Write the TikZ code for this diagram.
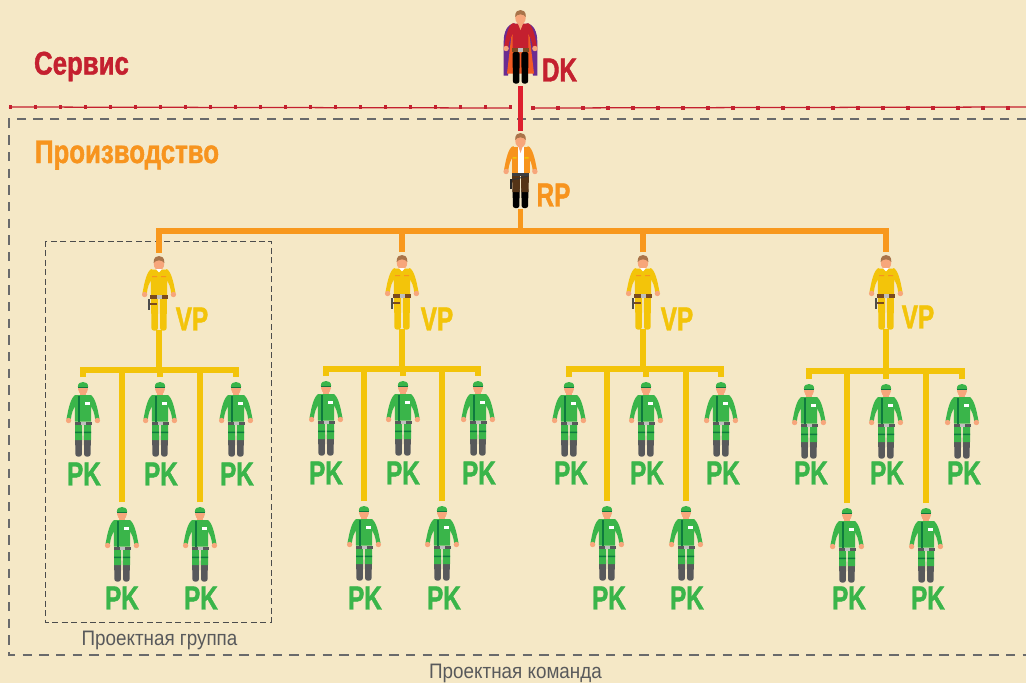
\documentclass[tikz,border=0pt]{standalone}
\usepackage{fontspec}
\setmainfont{Liberation Sans}
\newfontfamily\condb[UprightFont=* Bold,FakeStretch=0.73,FakeBold=1.3]{Liberation Sans}
\newfontfamily\condh[UprightFont=* Bold,FakeStretch=0.79,FakeBold=1.3]{Liberation Sans}
\newfontfamily\condr[FakeStretch=0.9]{Liberation Sans}
\definecolor{bgc}{HTML}{F5E8C6}
\definecolor{redc}{HTML}{C4202F}
\definecolor{redl}{HTML}{DD1F2E}
\definecolor{orc}{HTML}{F7941E}
\definecolor{orl}{HTML}{F8981D}
\definecolor{yec}{HTML}{F3C40A}
\definecolor{grc}{HTML}{3AB54A}
\definecolor{grd}{HTML}{0F7A3E}
\definecolor{skin}{HTML}{F7A67B}
\definecolor{hair}{HTML}{A9744A}
\definecolor{belt}{HTML}{7A4A20}
\definecolor{grayc}{HTML}{58595B}
\definecolor{purp}{HTML}{6A2C91}
\definecolor{capeor}{HTML}{F15A24}
\newcommand\armspair[1]{%
  \fill[#1] (-7,13) .. controls (-12,14) and (-14.5,26) .. (-16.5,37) -- (-12.3,38) .. controls (-11.5,31) and (-10,27) .. (-7,23) -- cycle;
  \fill[#1] (7,13) .. controls (12,14) and (14.5,26) .. (16.5,37) -- (12.3,38) .. controls (11.5,31) and (10,27) .. (7,23) -- cycle;
  \fill[skin] (-14.4,38.5) circle (2.7) (14.4,38.5) circle (2.7);}
\newcommand\legshape[4]{% colour, top, bottom, side
  \fill[#1,rounded corners=1.6pt] (#4*8,#2) -- (#4*0.8,#2) -- (#4*1.2,#3) -- (#4*7.5,#3) -- cycle;}
\newcommand\headhair{%
  \fill[skin] (-2.5,10) rectangle (2.5,15);
  \fill[skin] (0,8) ellipse (5.2 and 6.4);
  \fill[hair] (-5.4,7) .. controls (-5.6,1) and (-2,0) .. (0,0) .. controls (2,0) and (5.6,1) .. (5.4,7) .. controls (3,3.5) and (-3,3.5) .. (-5.4,7) -- cycle;}
\tikzset{
  x=0.75pt,y=-0.75pt,
  hitbox/.style={rectangle,inner sep=0pt,outer sep=0pt,minimum width=15pt},
  bigred/.style={line width=3.9pt,redl,line cap=butt},
  orbus/.style={line width=4.1pt,orl,line join=miter},
  yebus/.style={line width=4.1pt,yec,line join=miter},
  lab/.style={font=\condb\fontsize{25}{25}\selectfont,inner sep=0pt},
  headlab/.style={font=\condh\fontsize{24.5}{25}\selectfont,inner sep=0pt,anchor=base},
  pklab/.style={lab,text=grc},
  vplab/.style={lab,text=yec},
  capt/.style={font=\condr\fontsize{15.7}{16}\selectfont,text=grayc,inner sep=0pt,anchor=base},
  bigdash/.style={draw=grayc!90,line width=0.95pt,dash pattern=on 7pt off 5.5pt},
  smalldash/.style={draw=black!70,line width=0.7pt,dash pattern=on 4.5pt off 2.6pt},
  redsq/.style={redc,line width=0.95pt},
  pkfig/.pic={
    \fill[skin] (-3,6) rectangle (3,14);
    \fill[skin] (0,7) ellipse (5 and 5.5);
    \fill[grc] (-5.2,5.2) .. controls (-5.2,1) and (-2.5,0) .. (0,0) .. controls (2.5,0) and (5.2,1) .. (5.2,5.2) -- cycle;
    \fill[grd] (-5.4,4.8) rectangle (5.4,6.3);
    \armspair{grc}
    \fill[grc] (-8.5,13) -- (8.5,13) -- (8,39.5) -- (-8,39.5) -- cycle;
    \fill[grd] (-4.8,14) rectangle (-2.8,39.5);
    \fill[white] (2,19.5) rectangle (7,22.5);
    \legshape{grayc}{52}{74.5}{-1}
    \legshape{grayc}{52}{74.5}{1}
    \fill[grc] (-8,41) -- (-0.8,41) -- (-1,58) -- (-8,58) -- cycle;
    \fill[grc] (8,41) -- (0.8,41) -- (1,58) -- (8,58) -- cycle;
    \fill[grd] (-8,49.5) rectangle (-0.9,51) (8,49.5) rectangle (0.9,51);
    \fill[grayc] (-8.5,39.5) rectangle (8.5,43);
    \fill[black!25] (-2.5,39.5) rectangle (2.5,43);
  },
  vpfig/.pic={
    \headhair
    \armspair{yec}
    \fill[white] (-3,13) -- (3,13) -- (0,17) -- cycle;
    \fill[yec] (-8.5,13.5) -- (-3,13.5) -- (0,16.5) -- (3,13.5) -- (8.5,13.5) -- (8,39.5) -- (-8,39.5) -- cycle;
    \fill[orc] (-7,20) rectangle (-2,21.2) (2,20) rectangle (7,21.2);
    \legshape{yec}{41}{74.5}{-1}
    \legshape{yec}{41}{74.5}{1}
    \fill[belt] (-9,39) rectangle (9,42.5);
    \fill[black!25] (-2.5,39) rectangle (2.5,42.5);
    \fill[belt] (-10.5,47) rectangle (-2,49);
    \fill[black!70] (-10.8,42.5) rectangle (-9,54);
  },
  rpfig/.pic={
    \headhair
    \armspair{orc}
    \legshape{black}{55}{75}{-1}
    \legshape{black}{55}{75}{1}
    \fill[belt!70!black] (-8.5,40) -- (-0.5,40) -- (-0.8,59) -- (-8,59) -- cycle;
    \fill[belt!70!black] (8.5,40) -- (0.5,40) -- (0.8,59) -- (8,59) -- cycle;
    \fill[orc] (-9,14) -- (9,14) -- (9,39.5) -- (-9,39.5) -- cycle;
    \fill[white] (-3,14) -- (3,14) -- (3,39.5) -- (-3,39.5) -- cycle;
    \fill[skin] (-2,14) -- (2,14) -- (0,20) -- cycle;
    \fill[yec] (-8,24) rectangle (-4,25.5) (4,24) rectangle (8,25.5);
    \fill[grayc!70!black] (-8.5,39.5) rectangle (8.5,43);
    \draw[black!80,line width=0.7pt] (-9,47) -- (8,43);
    \fill[black!85] (-10.8,46) rectangle (-8.5,56);
  },
  dkfig/.pic={
    \fill[purp] (-6,13) .. controls (-13,14) and (-17,22) .. (-16.8,32) -- (-16.8,65.5) -- (-12.5,65.5) -- (-6,30) -- cycle;
    \fill[purp] (6,13) .. controls (13,14) and (17,22) .. (16.8,32) -- (16.8,65.5) -- (12.5,65.5) -- (6,30) -- cycle;
    \fill[capeor] (-8,16) -- (8,16) -- (13.5,63.5) -- (-13.5,63.5) -- cycle;
    \headhair
    \armspair{redc}
    \legshape{black}{42}{73.5}{-1}
    \legshape{black}{42}{73.5}{1}
    \fill[redc] (-7.5,13.5) -- (-2.5,13.5) -- (0,20) -- (2.5,13.5) -- (7.5,13.5) -- (8,38.5) -- (-8,38.5) -- cycle;
    \fill[skin] (-2.5,13.5) -- (2.5,13.5) -- (0,20) -- cycle;
    \fill[belt] (-8.5,38) rectangle (8.5,41.5);
    \fill[black!25] (-2.5,38) rectangle (2.5,41.5);
  },
}
\newcommand\figpk[3]{\path (#2,#3) pic {pkfig}; \node[hitbox,minimum height=59.25pt] (#1) at (#2,#3+34.5) {};}
\newcommand\figvp[3]{\path (#2,#3) pic {vpfig}; \node[hitbox,minimum height=57.75pt] (#1) at (#2,#3+35.5) {};}
\newcommand\redrow[3]{\foreach \k in {0,...,#3} {\fill[redc] ({#1+\k*25-1.9},#2-1.6) rectangle ++(3.8,3.2);}}
\begin{document}
\begin{tikzpicture}
\useasboundingbox (0,0) rectangle (1026,683);
\fill[bgc] (0,0) rectangle (1026,683);
% red service boundary
\coordinate (rl1) at (9,107); \coordinate (rl2) at (510,108);
\coordinate (rr1) at (532,108); \coordinate (rr2) at (1026,107);
\draw[redsq] (rl1) -- (rl2);
\draw[redsq] (rr1) -- (rr2);
\redrow{10.5}{107}{20}
\redrow{533}{108}{19}
% dashed frames
\coordinate (o1) at (1026,119); \coordinate (o2) at (9,119); \coordinate (o3) at (9,655); \coordinate (o4) at (1026,655);
\draw[bigdash] (o1) -- (o2) -- (o3) -- (o4);
\coordinate (i1) at (45,241); \coordinate (i2) at (271,622);
\draw[smalldash] (i1) rectangle (i2);
% headings
\node[headlab,text=redc] (serv) at (81.5,74.5) {Сервис};
\node[headlab,text=orc] (prod) at (127,163) {Производство};
\node[capt] (cap1) at (159.5,645) {Проектная группа};
\node[capt] (cap2) at (515.5,678) {Проектная команда};
% figures
\path (520.5,10) pic {dkfig}; \node[hitbox,minimum height=57pt] (dk) at (520.5,48) {};
\path (520.5,133) pic {rpfig}; \node[hitbox,minimum height=59pt] (rp) at (520.5,170) {};
\figvp{v1}{159}{256}\figvp{v2}{402}{255}\figvp{v3}{643}{255}\figvp{v4}{886}{255}
\figpk{a1}{83}{382}\figpk{a2}{160}{382}\figpk{a3}{236}{382}\figpk{a4}{122}{507}\figpk{a5}{200}{507}
\figpk{b1}{326}{381}\figpk{b2}{403}{381}\figpk{b3}{478}{381}\figpk{b4}{364}{506}\figpk{b5}{442}{506}
\figpk{c1}{569}{382}\figpk{c2}{646}{382}\figpk{c3}{721}{382}\figpk{c4}{607}{506}\figpk{c5}{686}{506}
\figpk{d1}{809}{384}\figpk{d2}{886}{384}\figpk{d3}{962}{384}\figpk{d4}{847}{508}\figpk{d5}{926}{508}
% connectors
\draw[bigred] (dk.south) -- (rp.north);
\coordinate (obus) at (520.5,231);
\draw[orbus] (rp.south) -- (obus);
\draw[orbus] (v1.north) |- (obus) -| (v4.north);
\draw[orbus] (v2.north) -- (v2.north |- obus);
\draw[orbus] (v3.north) -- (v3.north |- obus);
\foreach \g/\xb/\yb in {a/159/370,b/402/369,c/643/369,d/886/371}{
  \coordinate (\g bus) at (\xb,\yb);
  \draw[yebus] (\g1.north) |- (\g bus) -| (\g3.north);
  \draw[yebus] (\g2.north) -- (\g2.north |- \g bus);
  \draw[yebus] (\g4.north) -- (\g4.north |- \g bus);
  \draw[yebus] (\g5.north) -- (\g5.north |- \g bus);
}
\draw[yebus] (v1.south) -- (abus);
\draw[yebus] (v2.south) -- (bbus);
\draw[yebus] (v3.south) -- (cbus);
\draw[yebus] (v4.south) -- (dbus);
% role labels
\node[lab,text=redc] (tdk) at (559.5,70) {DK};
\node[lab,text=orc] (trp) at (553.5,195) {RP};
\node[vplab] (tv1) at (192,319) {VP};
\node[vplab] (tv2) at (437,319) {VP};
\node[vplab] (tv3) at (677,319) {VP};
\node[vplab] (tv4) at (918,317) {VP};
\foreach \n/\x/\y in {1/84/474,2/161/474,3/237/474,4/122/598,5/201/598,
  6/326/473,7/403/473,8/479/473,9/365/598,10/444/598,
  11/571/473,12/647/473,13/723/473,14/609/598,15/687/598,
  16/811/473,17/887/473,18/964/473,19/849/598,20/928/598}{
  \node[pklab] (tp\n) at (\x,\y) {PK};
}
\end{tikzpicture}
\end{document}
